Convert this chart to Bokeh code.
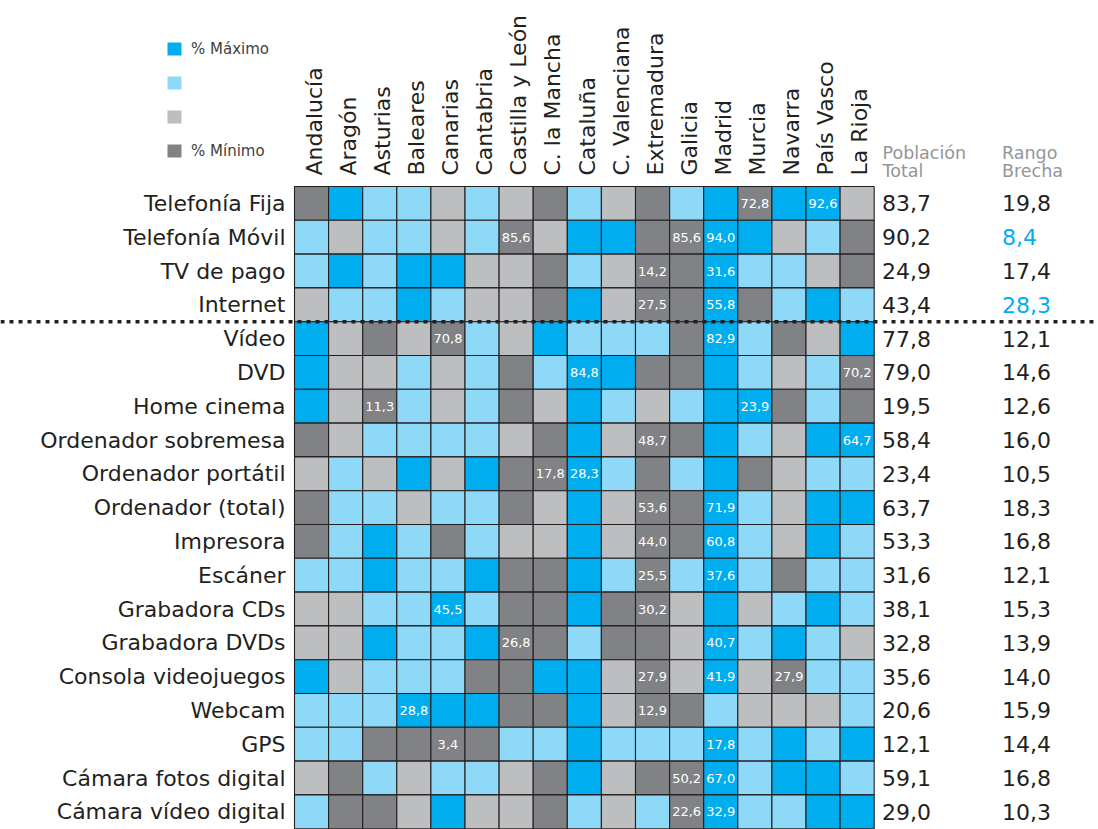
import math
from bokeh.plotting import figure
from bokeh.models import Range1d, ColumnDataSource, Span
from bokeh.core.properties import value
from bokeh.embed import file_html
from bokeh.resources import INLINE

# ---------------- data ----------------
regions = ["Andalucía", "Aragón", "Asturias", "Baleares", "Canarias", "Cantabria",
           "Castilla y León", "C. la Mancha", "Cataluña", "C. Valenciana", "Extremadura",
           "Galicia", "Madrid", "Murcia", "Navarra", "País Vasco", "La Rioja"]

items = ["Telefonía Fija", "Telefonía Móvil", "TV de pago", "Internet", "Vídeo", "DVD",
         "Home cinema", "Ordenador sobremesa", "Ordenador portátil", "Ordenador (total)",
         "Impresora", "Escáner", "Grabadora CDs", "Grabadora DVDs", "Consola videojuegos",
         "Webcam", "GPS", "Cámara fotos digital", "Cámara vídeo digital"]

# level class per cell: 0 = % Máximo ... 3 = % Mínimo
levels = [
    [3, 0, 1, 1, 2, 1, 2, 3, 1, 2, 3, 1, 0, 3, 0, 0, 2],
    [1, 2, 1, 1, 2, 1, 3, 2, 0, 0, 3, 3, 0, 0, 2, 1, 3],
    [1, 0, 1, 0, 0, 2, 2, 3, 1, 2, 3, 3, 0, 1, 1, 2, 3],
    [2, 1, 1, 0, 1, 2, 2, 3, 0, 2, 3, 3, 0, 3, 1, 0, 1],
    [0, 2, 3, 2, 3, 1, 2, 0, 1, 1, 1, 3, 0, 1, 3, 2, 0],
    [0, 2, 2, 1, 2, 1, 3, 1, 0, 0, 3, 3, 0, 1, 2, 1, 3],
    [0, 2, 3, 1, 2, 1, 3, 2, 0, 1, 2, 1, 0, 0, 3, 1, 3],
    [3, 2, 1, 1, 1, 1, 2, 3, 0, 2, 3, 3, 0, 1, 2, 0, 0],
    [2, 1, 2, 0, 2, 0, 3, 3, 0, 1, 3, 1, 0, 3, 2, 1, 1],
    [3, 1, 1, 2, 1, 1, 3, 2, 0, 2, 3, 3, 0, 1, 2, 0, 0],
    [3, 1, 0, 1, 3, 1, 2, 2, 0, 2, 3, 3, 0, 1, 2, 0, 1],
    [1, 1, 0, 1, 1, 0, 3, 3, 0, 1, 3, 1, 0, 1, 3, 1, 1],
    [2, 2, 1, 1, 0, 1, 3, 3, 0, 3, 3, 2, 0, 2, 1, 0, 1],
    [2, 2, 0, 1, 1, 0, 3, 3, 1, 3, 3, 2, 0, 1, 0, 1, 2],
    [0, 2, 1, 1, 1, 3, 3, 0, 0, 2, 3, 2, 0, 2, 3, 1, 1],
    [1, 1, 1, 0, 0, 0, 3, 3, 0, 2, 3, 3, 1, 2, 2, 2, 1],
    [1, 1, 3, 3, 3, 3, 1, 1, 0, 1, 1, 1, 0, 1, 0, 1, 0],
    [2, 3, 1, 2, 1, 1, 2, 3, 0, 2, 3, 3, 0, 1, 0, 0, 1],
    [1, 3, 3, 2, 0, 2, 2, 3, 1, 2, 1, 3, 0, 1, 1, 0, 0],
]

cell_labels = [
    ("Telefonía Fija", "Murcia", 72.8), ("Telefonía Fija", "País Vasco", 92.6),
    ("Telefonía Móvil", "Castilla y León", 85.6), ("Telefonía Móvil", "Galicia", 85.6),
    ("Telefonía Móvil", "Madrid", 94.0),
    ("TV de pago", "Extremadura", 14.2), ("TV de pago", "Madrid", 31.6),
    ("Internet", "Extremadura", 27.5), ("Internet", "Madrid", 55.8),
    ("Vídeo", "Canarias", 70.8), ("Vídeo", "Madrid", 82.9),
    ("DVD", "Cataluña", 84.8), ("DVD", "La Rioja", 70.2),
    ("Home cinema", "Asturias", 11.3), ("Home cinema", "Murcia", 23.9),
    ("Ordenador sobremesa", "Extremadura", 48.7), ("Ordenador sobremesa", "La Rioja", 64.7),
    ("Ordenador portátil", "C. la Mancha", 17.8), ("Ordenador portátil", "Cataluña", 28.3),
    ("Ordenador (total)", "Extremadura", 53.6), ("Ordenador (total)", "Madrid", 71.9),
    ("Impresora", "Extremadura", 44.0), ("Impresora", "Madrid", 60.8),
    ("Escáner", "Extremadura", 25.5), ("Escáner", "Madrid", 37.6),
    ("Grabadora CDs", "Canarias", 45.5), ("Grabadora CDs", "Extremadura", 30.2),
    ("Grabadora DVDs", "Castilla y León", 26.8), ("Grabadora DVDs", "Madrid", 40.7),
    ("Consola videojuegos", "Extremadura", 27.9), ("Consola videojuegos", "Madrid", 41.9),
    ("Consola videojuegos", "Navarra", 27.9),
    ("Webcam", "Baleares", 28.8), ("Webcam", "Extremadura", 12.9),
    ("GPS", "Canarias", 3.4), ("GPS", "Madrid", 17.8),
    ("Cámara fotos digital", "Galicia", 50.2), ("Cámara fotos digital", "Madrid", 67.0),
    ("Cámara vídeo digital", "Galicia", 22.6), ("Cámara vídeo digital", "Madrid", 32.9),
]

poblacion_total = [83.7, 90.2, 24.9, 43.4, 77.8, 79.0, 19.5, 58.4, 23.4, 63.7,
                   53.3, 31.6, 38.1, 32.8, 35.6, 20.6, 12.1, 59.1, 29.0]
rango_brecha = [19.8, 8.4, 17.4, 28.3, 12.1, 14.6, 12.6, 16.0, 10.5, 18.3,
                16.8, 12.1, 15.3, 13.9, 14.0, 15.9, 14.4, 16.8, 10.3]

legend_labels = ["% Máximo", "", "", "% Mínimo"]
header_pob = ["Población", "Total"]
header_rango = ["Rango", "Brecha"]

# ---------------- styles / layout ----------------
PALETTE = ["#00AEEF", "#8ED8F8", "#BCBEC0", "#808285"]
INK = "#231F20"
FONT = value("DejaVu Sans")

W, H = 1098, 829
X0, CW = 294.0, 34.1      # grid left (px) and column width (px)
Y0, RH = 186.0, 33.8      # grid top (px) and row height (px)


def px_x(px):
    return (px - X0) / CW


def px_y(py):
    return (py - Y0) / RH


def fmt(v):
    return f"{v:.1f}".replace(".", ",")


p = figure(width=W, height=H, output_backend="svg", toolbar_location=None,
           x_range=Range1d(px_x(0), px_x(W)), y_range=Range1d(px_y(H), px_y(0)),
           x_axis_location=None, y_axis_location=None, min_border=0,
           background_fill_color="white", border_fill_color="white")
p.outline_line_color = None
p.grid.visible = False

# cells
cx, cy, cc = [], [], []
for r, row in enumerate(levels):
    for c, lv in enumerate(row):
        cx.append(c + 0.5)
        cy.append(r + 0.5)
        cc.append(PALETTE[lv])
p.rect(x="x", y="y", width=1, height=1, fill_color="c", line_color=INK, line_width=1.1,
       source=ColumnDataSource(dict(x=cx, y=cy, c=cc)))

# cell value labels
lab = ColumnDataSource(dict(
    x=[regions.index(rg) + 0.5 for _, rg, _ in cell_labels],
    y=[items.index(it) + 0.5 for it, _, _ in cell_labels],
    t=[fmt(v) for _, _, v in cell_labels]))
p.text(x="x", y="y", text="t", source=lab, text_align="center", text_baseline="middle",
       text_color="white", text_font=FONT, text_font_size="13px")

# separator
p.add_layout(Span(location=4, dimension="width", line_color=INK, line_width=3.5,
                  line_dash="4 5"))

# row labels
p.text(x=[px_x(285)] * len(items), y=[r + 0.5 for r in range(len(items))], text=items,
       text_align="right", text_baseline="middle", text_color=INK, text_font=FONT,
       text_font_size="22px")

# column headers
p.text(x=[c + 0.58 for c in range(len(regions))], y=[px_y(175)] * len(regions), text=regions,
       angle=math.pi / 2, text_align="left", text_baseline="middle", text_color=INK,
       text_font=FONT, text_font_size="22px")

# legend
leg_y = [px_y(v) for v in (48.5, 82.5, 116.5, 150.5)]
p.rect(x=[px_x(174)] * 4, y=leg_y, width=14, height=13, width_units="screen",
       height_units="screen", fill_color=PALETTE, line_color=None)
p.text(x=[px_x(190.5)] * 4, y=leg_y, text=legend_labels, text_align="left",
       text_baseline="middle", text_color="#414042", text_font=FONT, text_font_size="15px")

# right-hand column headers
for xx, lines in ((882, header_pob), (1001.5, header_rango)):
    p.text(x=[px_x(xx)] * 2, y=[px_y(152.5), px_y(170.5)], text=lines, text_align="left",
           text_baseline="alphabetic", text_color="#939598", text_font=FONT,
           text_font_size="17.5px")

# right-hand values
ys = [r + 0.5 for r in range(len(items))]
p.text(x=[px_x(881.5)] * len(items), y=ys, text=[fmt(v) for v in poblacion_total],
       text_align="left", text_baseline="middle", text_color=INK, text_font=FONT,
       text_font_size="22px")
lo, hi = min(rango_brecha), max(rango_brecha)
rcol = ["#00AEEF" if v in (lo, hi) else INK for v in rango_brecha]
p.text(x=[px_x(1001.5)] * len(items), y=ys, text=[fmt(v) for v in rango_brecha],
       text_align="left", text_baseline="middle", text_color=rcol, text_font=FONT,
       text_font_size="22px")

open("out.html", "w").write(file_html(p, INLINE))
